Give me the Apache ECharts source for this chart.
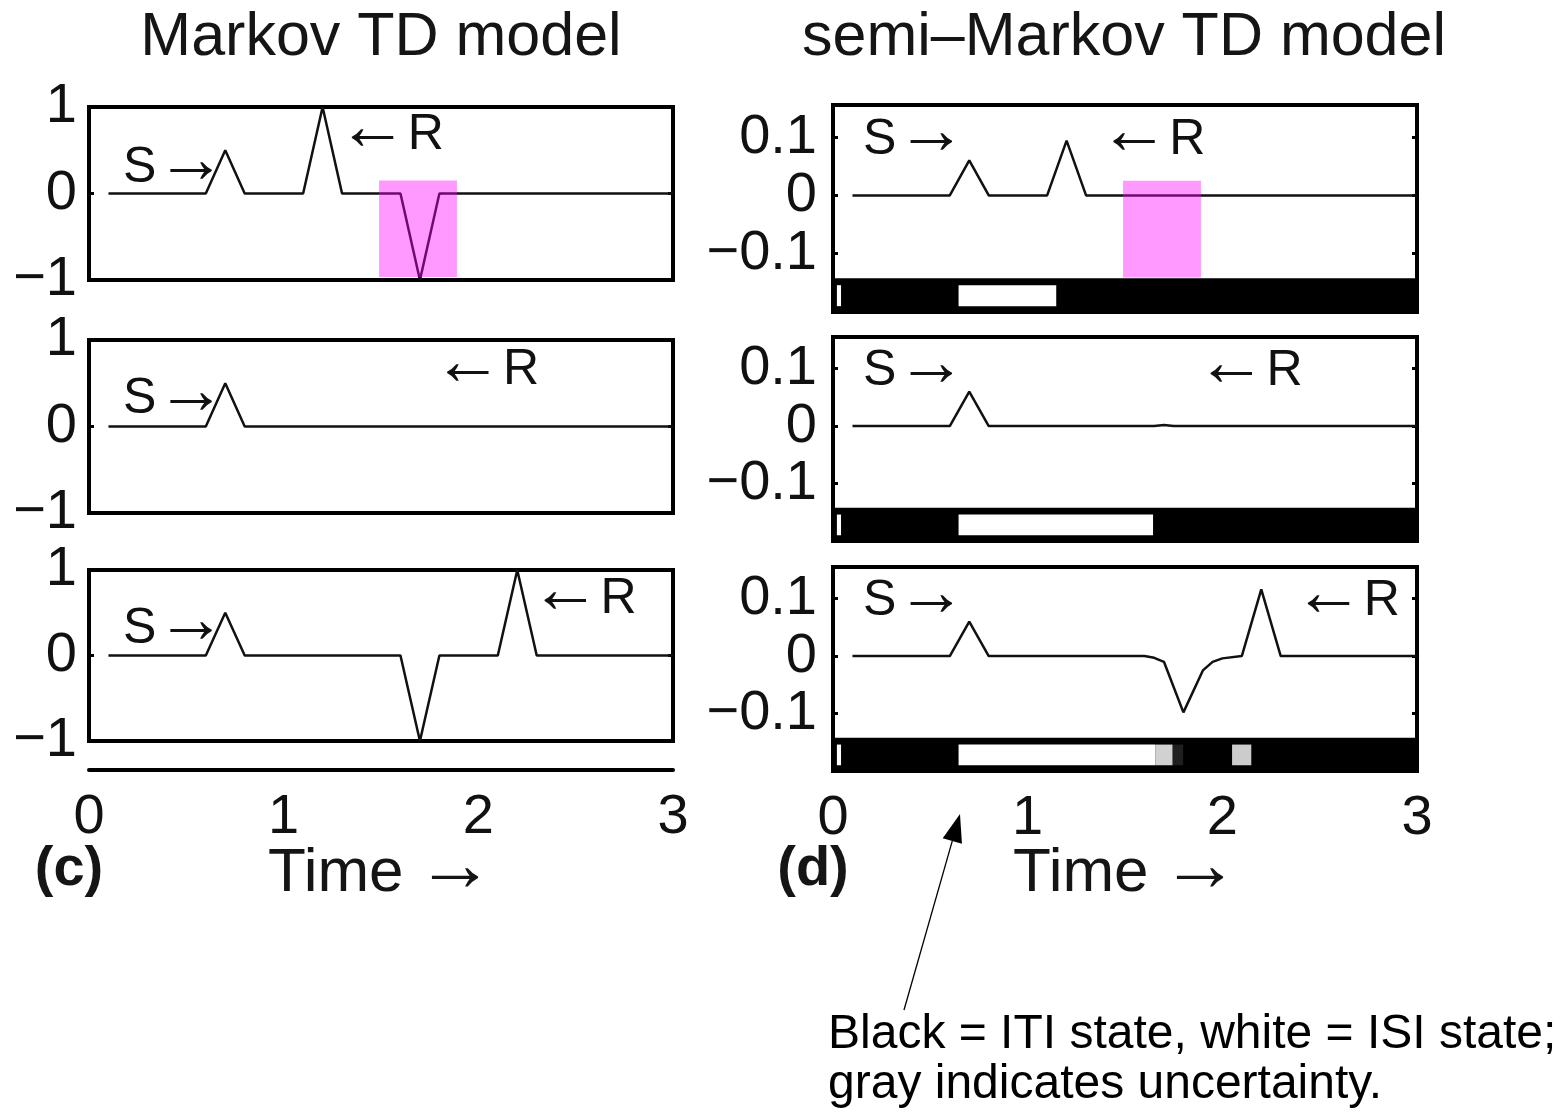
<!DOCTYPE html>
<html>
<head>
<meta charset="utf-8">
<script src="https://cdn.jsdelivr.net/npm/echarts@6/dist/echarts.min.js"></script>
<style>
  html, body { margin: 0; padding: 0; background: #fff; }
  #chart { width: 1561px; height: 1112px; }
</style>
</head>
<body>
<div id="chart"></div>
<script>
const FONT = "'Liberation Sans', Arial, Helvetica, sans-serif";

// ---- data -------------------------------------------------------------
const timeTicks = [0, 1, 2, 3];
const markovTicks = [-1, 0, 1];
const semiTicks = [-0.1, 0, 0.1];

// TD error, Markov model, three trials: [time, delta]
const markovTrial1 = [[0.1, 0], [0.6, 0], [0.7, 0.5], [0.8, 0], [1.1, 0], [1.2, 1], [1.3, 0],
                      [1.6, 0], [1.7, -1], [1.8, 0], [3.0, 0]];
const markovTrial2 = [[0.1, 0], [0.6, 0], [0.7, 0.5], [0.8, 0], [3.0, 0]];
const markovTrial3 = [[0.1, 0], [0.6, 0], [0.7, 0.5], [0.8, 0], [1.6, 0], [1.7, -1], [1.8, 0],
                      [2.1, 0], [2.2, 1], [2.3, 0], [3.0, 0]];

// TD error, semi-Markov model, three trials: [time, delta]
const semiTrial1 = [[0.1, 0], [0.6, 0], [0.7, 0.06], [0.8, 0], [1.1, 0], [1.2, 0.094], [1.3, 0], [3.0, 0]];
const semiTrial2 = [[0.1, 0], [0.6, 0], [0.7, 0.06], [0.8, 0], [1.65, 0], [1.7, 0.002], [1.75, 0], [3.0, 0]];
const semiTrial3 = [[0.1, 0], [0.6, 0], [0.7, 0.06], [0.8, 0], [1.6, 0], [1.65, -0.003], [1.7, -0.01],
                    [1.8, -0.098], [1.9, -0.025], [1.95, -0.01], [2.0, -0.004], [2.1, 0],
                    [2.2, 0.116], [2.3, 0], [3.0, 0]];

// stimulus / reward tags: [time, value, text]
const markovNotes1 = [[0.44, 0.29, 'S→'], [1.55, 0.67, '←R']];
const markovNotes2 = [[0.44, 0.31, 'S→'], [2.04, 0.65, '←R']];
const markovNotes3 = [[0.44, 0.31, 'S→'], [2.54, 0.66, '←R']];
const semiNotes1 = [[0.42, 0.095, 'S→'], [1.64, 0.095, '←R']];
const semiNotes2 = [[0.42, 0.095, 'S→'], [2.14, 0.095, '←R']];
const semiNotes3 = [[0.42, 0.095, 'S→'], [2.64, 0.095, '←R']];

// shaded window where reward was expected: [t0, t1, top, bottom]
const markovOmission = [[1.49, 1.89, 0.15, -0.965]];
const semiOmission = [[1.49, 1.89, 0.025, -0.141]];

// inferred state strip: [t0, t1, level]  (0 = ITI / black, 1 = ISI / white, between = gray)
const semiStates1 = [[0, 0.02, 0], [0.02, 0.042, 1], [0.042, 0.645, 0], [0.645, 1.148, 1], [1.148, 3, 0]];
const semiStates2 = [[0, 0.02, 0], [0.02, 0.042, 1], [0.042, 0.645, 0], [0.645, 1.645, 1], [1.645, 3, 0]];
const semiStates3 = [[0, 0.02, 0], [0.02, 0.042, 1], [0.042, 0.645, 0], [0.645, 1.655, 1],
                     [1.655, 1.745, 0.82], [1.745, 1.80, 0.12], [1.80, 2.05, 0], [2.05, 2.15, 0.8], [2.15, 3, 0]];

// ---- layout -----------------------------------------------------------
const LEFT_X = 89, RIGHT_X = 833, PANEL_W = 584;
const panels = [
  { left: LEFT_X,  top: 107, height: 173, kind: 'markov', trace: markovTrial1, notes: markovNotes1, omit: markovOmission },
  { left: LEFT_X,  top: 340, height: 173, kind: 'markov', trace: markovTrial2, notes: markovNotes2 },
  { left: LEFT_X,  top: 570, height: 171, kind: 'markov', trace: markovTrial3, notes: markovNotes3 },
  { left: LEFT_X,  top: 769, height: 1,   kind: 'axis' },
  { left: RIGHT_X, top: 105, height: 207, kind: 'semi', trace: semiTrial1, notes: semiNotes1, omit: semiOmission, states: semiStates1 },
  { left: RIGHT_X, top: 337, height: 204, kind: 'semi', trace: semiTrial2, notes: semiNotes2, states: semiStates2 },
  { left: RIGHT_X, top: 567, height: 204, kind: 'semi', trace: semiTrial3, notes: semiNotes3, states: semiStates3, xLabels: true }
];

// strip geometry in data units of the semi-Markov axes
const STRIP_TOP = -0.142, STRIP_BOTTOM = -0.2, CELL_TOP = -0.154, CELL_BOTTOM = -0.19;

const minus = s => s.replace('-', '\u2212');
const fmtMarkov = v => {
  const hit = markovTicks.find(t => Math.abs(t - v) < 1e-6);
  return hit === undefined ? '' : minus(String(hit));
};
const fmtSemi = v => {
  const hit = semiTicks.find(t => Math.abs(t - v) < 1e-6);
  if (hit === undefined) return '';
  return hit === 0 ? '0' : minus(hit.toFixed(1));
};
const fmtTime = v => {
  const hit = timeTicks.find(t => Math.abs(t - v) < 1e-6);
  return hit === undefined ? '' : String(hit);
};
// arrows are set larger so they read as long, thin strokes
const withArrows = s => s.replace(/[\u2190\u2192]/g, m => `{arr|${m}}`);

const tickLabelStyle = { fontSize: 56, fontFamily: FONT, color: '#111' };

const grid = [], xAxis = [], yAxis = [], series = [];

panels.forEach((p, i) => {
  const isAxis = p.kind === 'axis';
  grid.push({
    left: p.left, top: p.top, width: PANEL_W, height: p.height,
    show: !isAxis, borderColor: '#000', borderWidth: 4, backgroundColor: 'rgba(0,0,0,0)'
  });
  const showX = isAxis || !!p.xLabels;
  xAxis.push({
    gridIndex: i, type: 'value', min: 0, max: 3, interval: 1,
    axisLine: { show: isAxis, onZero: false, lineStyle: { color: '#000', width: 4 } },
    axisTick: { show: false },
    splitLine: { show: false },
    axisLabel: Object.assign({ show: showX, margin: 20, formatter: fmtTime }, tickLabelStyle)
  });
  const yRange = p.kind === 'semi' ? { min: -0.2, max: 0.155, interval: 0.1 } : { min: -1, max: 1, interval: 1 };
  const fmt = p.kind === 'semi' ? fmtSemi : fmtMarkov;
  ['left', 'right'].forEach(pos => {
    yAxis.push(Object.assign({
      gridIndex: i, type: 'value', position: pos, show: !isAxis,
      axisLine: { show: false },
      splitLine: { show: false },
      axisTick: { show: true, inside: true, length: 5, lineStyle: { color: '#000', width: 3 } },
      axisLabel: Object.assign({
        show: pos === 'left', margin: p.kind === 'semi' ? 16 : 12, formatter: fmt,
        padding: p.kind === 'semi' ? [4, 0, 0, 0] : [8, 0, 0, 0]
      }, tickLabelStyle)
    }, yRange));
  });
  if (isAxis) return;
  const yIdx = 2 * i;

  if (p.states) {
    // black strip under the state cells
    series.push({
      type: 'custom', xAxisIndex: i, yAxisIndex: yIdx, z: 4, silent: true, clip: false,
      data: [[p.states[0][0], p.states[p.states.length - 1][1]]],
      renderItem: (params, api) => {
        const a = api.coord([api.value(0), STRIP_TOP]);
        const b = api.coord([api.value(1), STRIP_BOTTOM]);
        return { type: 'rect', shape: { x: a[0], y: a[1], width: b[0] - a[0], height: b[1] - a[1] }, style: { fill: '#000' } };
      }
    });
    // state cells
    series.push({
      type: 'custom', xAxisIndex: i, yAxisIndex: yIdx, z: 5, silent: true, clip: false,
      data: p.states,
      renderItem: (params, api) => {
        const a = api.coord([api.value(0), CELL_TOP]);
        const b = api.coord([api.value(1), CELL_BOTTOM]);
        const g = Math.round(255 * api.value(2));
        return { type: 'rect', shape: { x: a[0], y: a[1], width: b[0] - a[0], height: b[1] - a[1] },
                 style: { fill: `rgb(${g},${g},${g})` } };
      }
    });
  }

  series.push({
    type: 'line', xAxisIndex: i, yAxisIndex: yIdx, data: p.trace, z: 3,
    showSymbol: false, symbol: 'none', silent: true, clip: false,
    lineStyle: { color: '#111', width: 2.5 }
  });

  if (p.omit) {
    series.push({
      type: 'custom', xAxisIndex: i, yAxisIndex: yIdx, z: 10, silent: true, clip: false,
      data: p.omit,
      renderItem: (params, api) => {
        const a = api.coord([api.value(0), api.value(2)]);
        const b = api.coord([api.value(1), api.value(3)]);
        return { type: 'rect', shape: { x: a[0], y: a[1], width: b[0] - a[0], height: b[1] - a[1] },
                 style: { fill: 'rgba(255,0,255,0.4)' } };
      }
    });
  }

  series.push({
    type: 'scatter', xAxisIndex: i, yAxisIndex: yIdx, z: 6, silent: true,
    symbolSize: 0, itemStyle: { color: '#000', opacity: 1 },
    data: p.notes.map(n => ({ value: [n[0], n[1]], name: n[2] })),
    label: {
      show: true, position: 'inside', formatter: prm => withArrows(prm.name),
      fontSize: 50, fontFamily: FONT, color: '#111', textBorderWidth: 0,
      rich: { arr: { fontSize: 70, fontFamily: FONT, color: '#111', textBorderWidth: 0, padding: [0, 0, 12, 0] } }
    }
  });
});

// pointer from the caption to the state strip
const tail = [904, 1010], tip = [960, 814];
const dx = tip[0] - tail[0], dy = tip[1] - tail[1], len = Math.hypot(dx, dy);
const ux = dx / len, uy = dy / len, HEAD = 28, HALF = 10;
const base = [tip[0] - HEAD * ux, tip[1] - HEAD * uy];

const text = (x, y, s, size, extra) => ({
  type: 'text', x, y, silent: true,
  style: Object.assign({
    text: s, fontSize: size, fontFamily: FONT, fill: '#151515', align: 'center', verticalAlign: 'middle',
    rich: { arr: { fontSize: 78, fontFamily: FONT, fill: '#151515', padding: [0, 0, 12, 0] } }
  }, extra || {})
});

const option = {
  animation: false,
  backgroundColor: '#fff',
  grid, xAxis, yAxis, series,
  graphic: [
    text(381, 38, 'Markov TD model', 61),
    text(1124, 38, 'semi\u2013Markov TD model', 61),
    text(69, 870, '(c)', 56, { fontWeight: 'bold' }),
    text(813, 870, '(d)', 56, { fontWeight: 'bold' }),
    text(381, 874, withArrows('Time\u2009\u2192'), 62),
    text(1126, 874, withArrows('Time\u2009\u2192'), 62),
    text(828, 1035, 'Black = ITI state, white = ISI state;', 48, { align: 'left', fill: '#000' }),
    text(828, 1085, 'gray indicates uncertainty.', 48, { align: 'left', fill: '#000' }),
    { type: 'line', silent: true, shape: { x1: tail[0], y1: tail[1], x2: base[0], y2: base[1] },
      style: { stroke: '#000', lineWidth: 1.3 } },
    { type: 'polygon', silent: true,
      shape: { points: [tip, [base[0] - HALF * uy, base[1] + HALF * ux], [base[0] + HALF * uy, base[1] - HALF * ux]] },
      style: { fill: '#000' } }
  ]
};

const chart = echarts.init(document.getElementById('chart'), null, { renderer: 'canvas' });
chart.setOption(option);
</script>
</body>
</html>
